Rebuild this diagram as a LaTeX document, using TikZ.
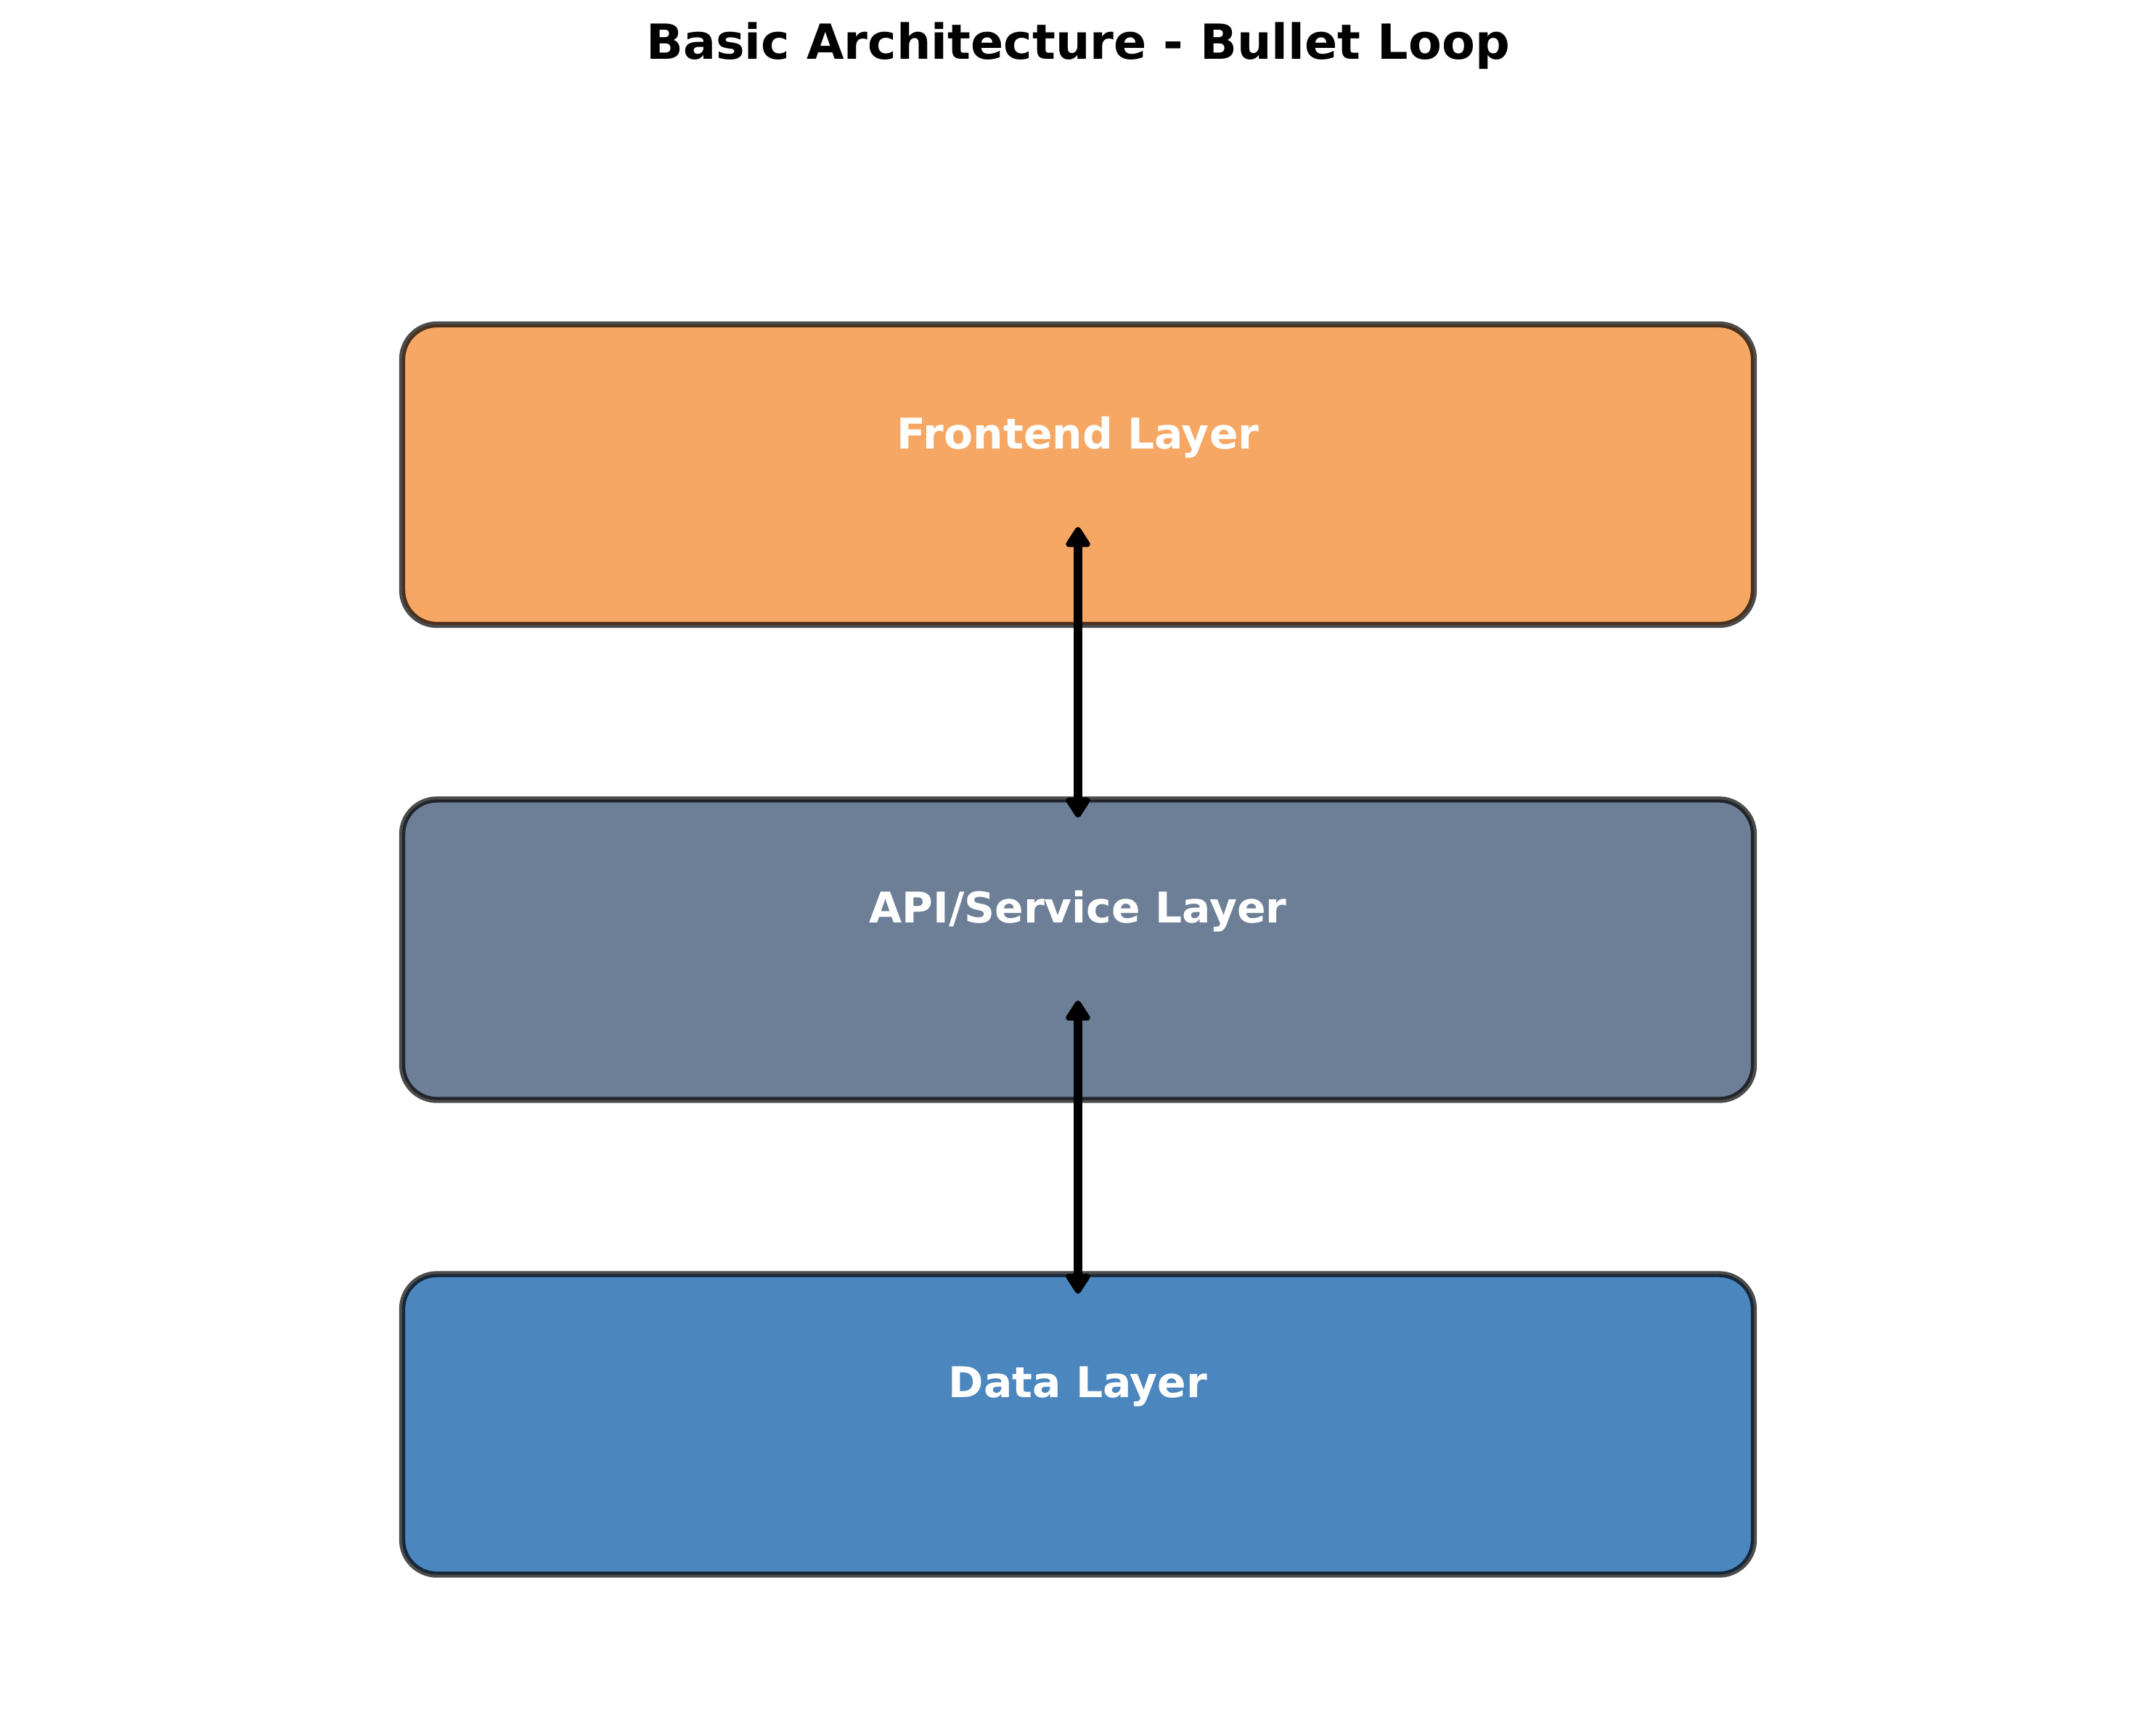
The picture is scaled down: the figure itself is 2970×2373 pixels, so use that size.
\documentclass[tikz,border=0pt]{standalone}
\usepackage{fontspec}
\setmainfont{DejaVu Sans}
\usetikzlibrary{arrows.meta,calc}
\definecolor{feorange}{HTML}{F6A763}
\definecolor{apislate}{HTML}{6C7F96}
\definecolor{datablue}{HTML}{4B86BE}
\tikzset{
  layerbox/.style={draw=black, draw opacity=0.7, line width=2pt, rounded corners=11.5pt,
    minimum width=446.88pt, minimum height=99.36pt, inner sep=0pt, outer sep=0pt},
  layertext/.style={anchor=base, text=white, font=\fontsize{14}{17}\selectfont\bfseries, inner sep=0pt},
  flow/.style={line width=2.9pt, {Triangle[width=9pt,length=7.5pt,round]}-{Triangle[width=9pt,length=7.5pt,round]}}
}
\begin{document}
\begin{tikzpicture}[x=0.24pt,y=-0.24pt]
\useasboundingbox (0,0) rectangle (2970,2373);
\node[anchor=base, inner sep=0pt, font=\fontsize{16}{19}\selectfont\bfseries] (title) at (1485,81) {Basic Architecture - Bullet Loop};
\node[layerbox, fill=feorange] (fe) at (1485,654) {};
\node[layerbox, fill=apislate] (api) at (1485,1308.5) {};
\node[layerbox, fill=datablue] (data) at (1485,1962.5) {};
\node[layertext] (feT) at ($(fe.north)+(0,171)$) {Frontend Layer};
\node[layertext] (apiT) at ($(api.north)+(0,170)$) {API/Service Layer};
\node[layertext] (dataT) at ($(data.north)+(0,170)$) {Data Layer};
\coordinate (a1top) at ($(fe.north)+(0,279)$);
\coordinate (a1bot) at ($(api.north)+(0,25)$);
\coordinate (a2top) at ($(api.north)+(0,277)$);
\coordinate (a2bot) at ($(data.north)+(0,27)$);
\draw[flow] (a1top) -- (a1bot);
\draw[flow] (a2top) -- (a2bot);
\end{tikzpicture}
\end{document}
